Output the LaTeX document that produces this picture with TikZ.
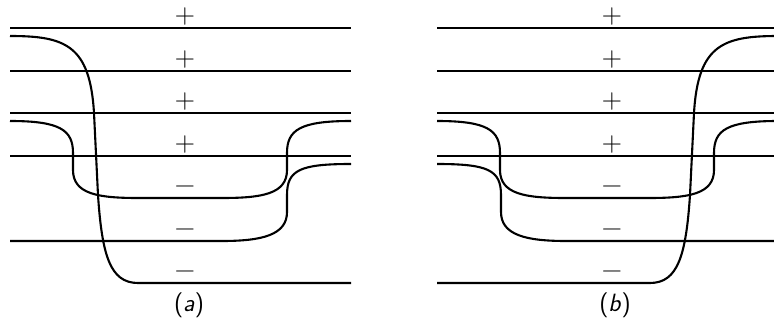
\documentclass[tikz,border=0pt]{standalone}
\usepackage{fontspec}
\begin{document}
\begin{tikzpicture}[x=1pt,y=-1pt,
  wire/.style={line width=2.1pt},
  sign/.style={font=\fontsize{28}{28}\selectfont, inner sep=0pt, anchor=base},
  captxt/.style={font=\sffamily\fontsize{25}{25}\selectfont, inner sep=0pt, anchor=base}]
\useasboundingbox (0,0) rectangle (774,323);

% ---------- panel (a) ----------
\foreach \yy in {28,71,113,156} \draw[wire] (10,\yy) -- (351,\yy);
% big curve
\draw[wire] (10,36) .. controls (65,36) and (90,45) .. (94,113) -- (98,195)
  .. controls (102,255) and (110,283) .. (138,283) -- (351,283);
% middle well
\draw[wire] (10,121) .. controls (60,121) and (73,130) .. (73,153) -- (73,170)
  .. controls (73,194) and (98,198) .. (138,198) -- (222,198)
  .. controls (262,198) and (287,194) .. (287,170) -- (287,153)
  .. controls (287,130) and (300,121) .. (351,121);
% lower step
\draw[wire] (10,241) -- (222,241) .. controls (262,241) and (287,235) .. (287,212)
  -- (287,195) .. controls (287,170) and (300,164) .. (351,164);

% ---------- panel (b) ----------
\begin{scope}[xshift=427pt]
\foreach \yy in {28,71,113,156} \draw[wire] (10,\yy) -- (351,\yy);
\draw[wire] (10,121) .. controls (60,121) and (73,130) .. (73,153) -- (73,170)
  .. controls (73,194) and (98,198) .. (138,198) -- (222,198)
  .. controls (262,198) and (287,194) .. (287,170) -- (287,153)
  .. controls (287,130) and (300,121) .. (351,121);
\end{scope}
\begin{scope}[xshift=788pt, xscale=-1]
\draw[wire] (10,36) .. controls (65,36) and (90,45) .. (94,113) -- (98,195)
  .. controls (102,255) and (110,283) .. (138,283) -- (351,283);
\draw[wire] (10,241) -- (222,241) .. controls (262,241) and (287,235) .. (287,212)
  -- (287,195) .. controls (287,170) and (300,164) .. (351,164);
\end{scope}

% ---------- signs ----------
\node[sign] (a1) at (185,24) {+};
\node[sign] (a2) at (185,67) {+};
\node[sign] (a3) at (185,109) {+};
\node[sign] (a4) at (185,152) {+};
\node[sign] (a5) at (185,194) {−};
\node[sign] (a6) at (185,237) {−};
\node[sign] (a7) at (185,279) {−};
\node[sign] (b1) at (612,24) {+};
\node[sign] (b2) at (612,67) {+};
\node[sign] (b3) at (612,109) {+};
\node[sign] (b4) at (612,152) {+};
\node[sign] (b5) at (612,194) {−};
\node[sign] (b6) at (612,237) {−};
\node[sign] (b7) at (612,279) {−};

% ---------- captions ----------
\node[captxt] (capa) at (189,312) {(\textit{a})};
\node[captxt] (capb) at (615,312) {(\textit{b})};
\end{tikzpicture}
\end{document}
